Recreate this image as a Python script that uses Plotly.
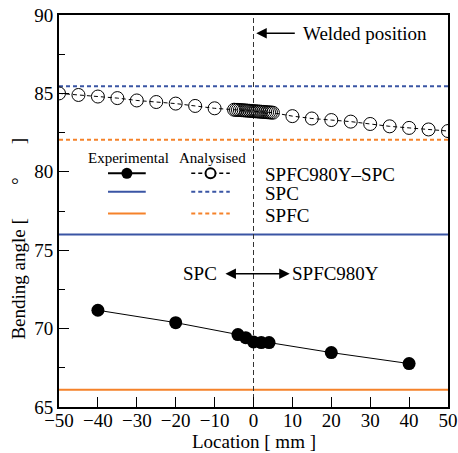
import plotly.graph_objects as go

# ---------------- data ----------------
x_exp = [-40, -20, -4, -2, 0, 2, 4, 20, 40]
y_exp = [71.17, 70.38, 69.62, 69.42, 69.15, 69.11, 69.11, 68.47, 67.77]

x_ana = [-50, -45, -40, -35, -30, -25, -20, -15, -10,
         -5, -4.5, -4, -3.5, -3, -2.5, -2, -1.5, -1, -0.5, 0,
         0.5, 1, 1.5, 2, 2.5, 3, 3.5, 4, 4.5, 5,
         10, 15, 20, 25, 30, 35, 40, 45, 50]
y_ana = [85.0, 84.9, 84.8, 84.7, 84.55, 84.45, 84.35, 84.2, 84.05,
         83.96, 83.95, 83.95, 83.94, 83.93, 83.92, 83.91, 83.9, 83.89, 83.88, 83.87,
         83.86, 83.85, 83.84, 83.83, 83.82, 83.81, 83.8, 83.79, 83.78, 83.77,
         83.55, 83.4, 83.3, 83.2, 83.05, 82.9, 82.8, 82.7, 82.6]

spc_exp = 76.0
spfc_exp = 66.1
spc_ana = 85.45
spfc_ana = 82.05

x_ticks = [-50, -40, -30, -20, -10, 0, 10, 20, 30, 40, 50]
y_ticks = [65, 70, 75, 80, 85, 90]

BLUE = "#3a55a4"
ORANGE = "#f5822a"
FONT = "Liberation Serif"

fig = go.Figure()

# reference horizontal lines
for yv, col, dash in [(spc_ana, BLUE, "dash"), (spfc_ana, ORANGE, "dash"),
                      (spc_exp, BLUE, "solid"), (spfc_exp, ORANGE, "solid")]:
    fig.add_trace(go.Scatter(x=[-50, 50], y=[yv, yv], mode="lines",
                             line=dict(color=col, width=2, dash="4px,3px" if dash == "dash" else "solid"),
                             showlegend=False, hoverinfo="skip"))

# welded position vertical line
fig.add_trace(go.Scatter(x=[0, 0], y=[65, 90], mode="lines",
                         line=dict(color="#333333", width=1, dash="5px,3px"),
                         showlegend=False, hoverinfo="skip"))

# analysed
fig.add_trace(go.Scatter(x=x_ana, y=y_ana, mode="lines+markers",
                         line=dict(color="black", width=1, dash="4px,3px"),
                         marker=dict(symbol="circle-open", size=13, color="black",
                                     line=dict(width=1, color="black")),
                         showlegend=False))
# experimental
fig.add_trace(go.Scatter(x=x_exp, y=y_exp, mode="lines+markers",
                         line=dict(color="black", width=1),
                         marker=dict(symbol="circle", size=13, color="black"),
                         showlegend=False))

# hand-made legend samples
leg_solid = [-37.4, -27.7]
leg_dash = [-16.0, -6.1]
leg_y = [79.9, 78.72, 77.34]
fig.add_trace(go.Scatter(x=leg_solid, y=[leg_y[0]] * 2, mode="lines",
                         line=dict(color="black", width=2), showlegend=False, hoverinfo="skip"))
fig.add_trace(go.Scatter(x=[sum(leg_solid) / 2], y=[leg_y[0]], mode="markers",
                         marker=dict(size=11, color="black"), showlegend=False, hoverinfo="skip"))
fig.add_trace(go.Scatter(x=leg_dash, y=[leg_y[0]] * 2, mode="lines",
                         line=dict(color="black", width=1.5, dash="4px,3px"), showlegend=False, hoverinfo="skip"))
fig.add_trace(go.Scatter(x=[sum(leg_dash) / 2], y=[leg_y[0]], mode="markers",
                         marker=dict(symbol="circle", size=10, color="white",
                                     line=dict(width=2, color="black")),
                         showlegend=False, hoverinfo="skip"))
for yv, col in [(leg_y[1], BLUE), (leg_y[2], ORANGE)]:
    fig.add_trace(go.Scatter(x=leg_solid, y=[yv] * 2, mode="lines",
                             line=dict(color=col, width=2), showlegend=False, hoverinfo="skip"))
    fig.add_trace(go.Scatter(x=leg_dash, y=[yv] * 2, mode="lines",
                             line=dict(color=col, width=2, dash="4px,3px"), showlegend=False, hoverinfo="skip"))

big = dict(family=FONT, size=19, color="black")
small = dict(family=FONT, size=15, color="black")
nb = "\u00a0"
annotations = [
    dict(x=-32.1, y=80.87, text="Experimental", showarrow=False, font=small, xanchor="center", yanchor="middle"),
    dict(x=-10.6, y=80.87, text="Analysised", showarrow=False, font=small, xanchor="center", yanchor="middle"),
    dict(x=2.4, y=79.85, text="SPFC980Y\u2013SPC", showarrow=False, font=big, xanchor="left", yanchor="middle"),
    dict(x=2.4, y=78.62, text="SPC", showarrow=False, font=big, xanchor="left", yanchor="middle"),
    dict(x=2.4, y=77.2, text="SPFC", showarrow=False, font=big, xanchor="left", yanchor="middle"),
    # welded position arrow
    dict(x=0.7, y=88.84, ax=11, ay=88.84, axref="x", ayref="y", text="", showarrow=True,
         arrowhead=2, arrowsize=1.4, arrowwidth=1.5, arrowcolor="black"),
    dict(x=12.3, y=88.84, text="Welded position", showarrow=False, font=big, xanchor="left", yanchor="middle"),
    # double arrow
    dict(x=9.3, y=73.5, ax=-7.6, ay=73.5, axref="x", ayref="y", text="", showarrow=True,
         arrowhead=2, startarrowhead=2, arrowside="end+start", arrowsize=1.4, startarrowsize=1.4,
         arrowwidth=1.5, arrowcolor="black"),
    dict(x=-8.9, y=73.5, text="SPC", showarrow=False, font=big, xanchor="right", yanchor="middle"),
    dict(x=9.3, y=73.5, text="SPFC980Y", showarrow=False, font=big, xanchor="left", yanchor="middle"),
    # y title
    dict(x=-0.105, y=0.43, xref="paper", yref="paper", text="Bending angle [" + nb * 7 + "\u00b0" + nb * 7 + "]",
         textangle=-90, showarrow=False, font=big, xanchor="center", yanchor="middle"),
    # x title
    dict(x=0.5, y=-0.12, xref="paper", yref="paper", text="Location [ mm ]",
         showarrow=False, font=big, xanchor="center", yanchor="bottom"),
]

fig.update_layout(
    template="none",
    width=458, height=453,
    margin=dict(l=59, r=10, t=15, b=46, autoexpand=False),
    plot_bgcolor="white", paper_bgcolor="white",
    font=big,
    annotations=annotations,
    xaxis=dict(range=[-50, 50], tickvals=x_ticks, ticks="inside", ticklen=10, tickwidth=1,
               tickcolor="black", showline=True, linecolor="black", linewidth=2, mirror=True,
               showgrid=False, zeroline=False, tickfont=big, automargin=False,
               ticklabelstandoff=-5),
    yaxis=dict(range=[65, 90], tickvals=y_ticks, ticks="inside", ticklen=10, tickwidth=1,
               tickcolor="black", showline=True, linecolor="black", linewidth=2, mirror=True,
               showgrid=False, zeroline=False, tickfont=big, automargin=False,
               minor=dict(dtick=2.5, tick0=65, ticks="inside", ticklen=6, tickcolor="black", tickwidth=1)),
)

fig.write_html("out.html")
